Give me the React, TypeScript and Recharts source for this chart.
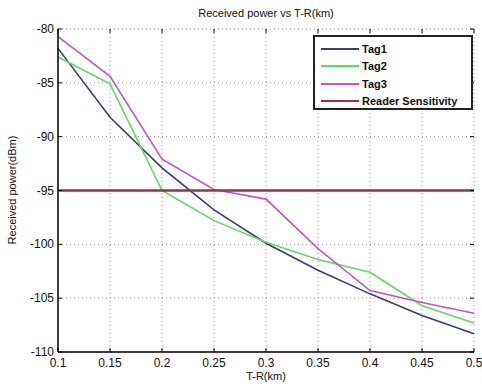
import React from 'react'
import { LineChart, Line, XAxis, YAxis, CartesianGrid } from 'recharts'

const distances = [0.1, 0.15, 0.2, 0.25, 0.3, 0.35, 0.4, 0.45, 0.5]
const tag1 = [-81.8, -88.2, -92.9, -96.8, -99.9, -102.4, -104.6, -106.6, -108.3]
const tag2 = [-82.6, -85.1, -95.0, -97.8, -99.8, -101.4, -102.6, -105.7, -107.3]
const tag3 = [-80.7, -84.4, -92.1, -94.9, -95.8, -100.4, -104.3, -105.4, -106.4]
const sensitivity = [-95, -95, -95, -95, -95, -95, -95, -95, -95]
const yTicks = [-110, -105, -100, -95, -90, -85, -80]
const xTickLabels = ['0.1', '0.15', '0.2', '0.25', '0.3', '0.35', '0.4', '0.45', '0.5']

const data = distances.map((d, i) => ({
  d,
  tag1: tag1[i],
  tag2: tag2[i],
  tag3: tag3[i],
  sens: sensitivity[i],
}))

const series = [
  { key: 'tag1', name: 'Tag1', color: '#3c3c70', width: 1.6 },
  { key: 'tag2', name: 'Tag2', color: '#5fdc5f', width: 1.6 },
  { key: 'tag3', name: 'Tag3', color: '#c454c8', width: 1.6 },
  { key: 'sens', name: 'Reader Sensitivity', color: '#94344a', width: 2.6 },
]

const FONT = '"Liberation Sans", Arial, sans-serif'

// plot box in page pixels
const PLOT_TOP = 29
const PLOT_BOTTOM = 352
const PLOT_LEFT = 58
const PLOT_RIGHT = 474

const XTick = (props: any) => {
  const { x, payload } = props
  const i = distances.indexOf(payload.value)
  return (
    <g>
      <line x1={x} x2={x} y1={PLOT_BOTTOM} y2={PLOT_BOTTOM - 4} stroke="#000" />
      <line x1={x} x2={x} y1={PLOT_TOP} y2={PLOT_TOP + 4} stroke="#000" />
      <text x={x} y={PLOT_BOTTOM + 15} textAnchor="middle" fontSize={12} fontFamily={FONT} fill="#111">
        {i >= 0 ? xTickLabels[i] : payload.value}
      </text>
    </g>
  )
}

const YTick = (props: any) => {
  const { y, payload } = props
  return (
    <g>
      <line x1={PLOT_LEFT} x2={PLOT_LEFT + 4} y1={y} y2={y} stroke="#000" />
      <line x1={PLOT_RIGHT} x2={PLOT_RIGHT - 4} y1={y} y2={y} stroke="#000" />
      <text x={54} y={y + 4} textAnchor="end" fontSize={12} fontFamily={FONT} fill="#111">
        {payload.value}
      </text>
    </g>
  )
}

const LegendBox = () => (
  <div
    style={{
      position: 'absolute',
      left: 313,
      top: 35,
      width: 160,
      height: 75,
      border: '2px solid #222',
      background: '#fff',
      boxSizing: 'border-box',
      padding: '3px 0 0 6px',
      fontFamily: FONT,
      fontSize: 11,
      fontWeight: 'bold',
      color: '#111',
      whiteSpace: 'nowrap',
    }}
  >
    {series.map((s) => (
      <div key={s.key} style={{ display: 'flex', alignItems: 'center', height: 17.5 }}>
        <div style={{ width: 38, height: 2, background: s.color, marginRight: 3 }} />
        <span>{s.name}</span>
      </div>
    ))}
  </div>
)

export default function App() {
  return (
    <div style={{ position: 'absolute', left: 0, top: 0, width: 482, height: 389, background: '#fff' }}>
      <div
        style={{
          position: 'absolute',
          top: 7,
          left: PLOT_LEFT,
          width: PLOT_RIGHT - PLOT_LEFT,
          textAlign: 'center',
          fontFamily: FONT,
          fontSize: 11,
          color: '#111',
        }}
      >
        Received power vs T-R(km)
      </div>
      <div
        style={{
          position: 'absolute',
          left: 12,
          top: 190,
          transform: 'translate(-50%, -50%) rotate(-90deg)',
          whiteSpace: 'nowrap',
          fontFamily: FONT,
          fontSize: 11,
          color: '#111',
        }}
      >
        Received power(dBm)
      </div>
      <div
        style={{
          position: 'absolute',
          top: 370,
          left: PLOT_LEFT,
          width: PLOT_RIGHT - PLOT_LEFT,
          textAlign: 'center',
          fontFamily: FONT,
          fontSize: 11,
          color: '#111',
        }}
      >
        T-R(km)
      </div>
      <LineChart
        width={482}
        height={389}
        data={data}
        margin={{ top: PLOT_TOP, right: 482 - PLOT_RIGHT, bottom: 0, left: 0 }}
      >
        <CartesianGrid stroke="#9a9a9a" strokeDasharray="1 3" />
        <XAxis
          dataKey="d"
          type="number"
          domain={[0.1, 0.5]}
          ticks={distances}
          tick={<XTick />}
          tickLine={false}
          axisLine={{ stroke: '#000', strokeWidth: 1.5 }}
          height={389 - PLOT_BOTTOM}
          interval={0}
        />
        <XAxis
          xAxisId="top"
          dataKey="d"
          type="number"
          domain={[0.1, 0.5]}
          orientation="top"
          tick={false}
          tickLine={false}
          axisLine={{ stroke: '#000', strokeWidth: 1.5 }}
          height={0}
        />
        <YAxis
          type="number"
          domain={[-110, -80]}
          ticks={yTicks}
          tick={<YTick />}
          tickLine={false}
          axisLine={{ stroke: '#000', strokeWidth: 1.5 }}
          width={PLOT_LEFT}
          interval={0}
        />
        <YAxis
          yAxisId="right"
          orientation="right"
          domain={[-110, -80]}
          tick={false}
          tickLine={false}
          axisLine={{ stroke: '#000', strokeWidth: 1.5 }}
          width={0}
        />
        {series.map((s) => (
          <Line
            key={s.key}
            dataKey={s.key}
            name={s.name}
            type="linear"
            stroke={s.color}
            strokeWidth={s.width}
            dot={false}
            activeDot={false}
            isAnimationActive={false}
          />
        ))}
      </LineChart>
      <LegendBox />
    </div>
  )
}
